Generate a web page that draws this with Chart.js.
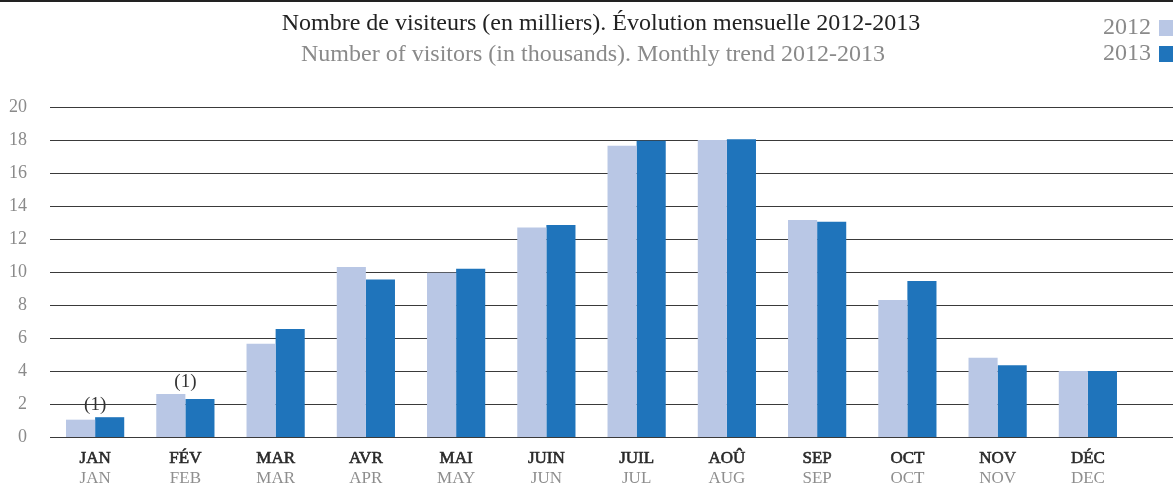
<!DOCTYPE html>
<html>
<head>
<meta charset="utf-8">
<script src="https://cdn.jsdelivr.net/npm/chart.js@4"></script>
<style>
  html, body { margin: 0; padding: 0; background: #fff; }
  #wrap { width: 1173px; height: 486px; position: relative; }
</style>
</head>
<body>
<div id="wrap"><canvas id="chart"></canvas></div>
<script>
const monthsFr = ['JAN', 'FÉV', 'MAR', 'AVR', 'MAI', 'JUIN', 'JUIL', 'AOÛ', 'SEP', 'OCT', 'NOV', 'DÉC'];
const monthsEn = ['JAN', 'FEB', 'MAR', 'APR', 'MAY', 'JUN', 'JUL', 'AUG', 'SEP', 'OCT', 'NOV', 'DEC'];
const visitors2012 = [1.05, 2.6, 5.65, 10.3, 9.95, 12.7, 17.65, 18.0, 13.15, 8.3, 4.8, 4.0];
const visitors2013 = [1.2, 2.3, 6.55, 9.55, 10.2, 12.85, 17.95, 18.05, 13.05, 9.45, 4.35, 4.0];
const notes = ['(1)', '(1)', '', '', '', '', '', '', '', '', '', ''];
const yTicks = [0, 2, 4, 6, 8, 10, 12, 14, 16, 18, 20];

const titleFr = 'Nombre de visiteurs (en milliers). Évolution mensuelle 2012-2013';
const titleEn = 'Number of visitors (in thousands). Monthly trend 2012-2013';

const FONT = '"Liberation Serif", "DejaVu Serif", serif';

// draws titles, legend, extended grid lines, two-line month labels and notes
const decor = {
  id: 'decor',
  beforeDatasetsDraw(chart) {
    const ctx = chart.ctx;
    const y = chart.scales.y;
    ctx.save();
    ctx.strokeStyle = '#3a3a3a';
    ctx.lineWidth = 1.2;
    yTicks.forEach(t => {
      const py = Math.round(y.getPixelForValue(t)) + 0.5;
      ctx.beginPath();
      ctx.moveTo(chart.chartArea.left, py);
      ctx.lineTo(chart.width, py);
      ctx.stroke();
    });
    ctx.restore();
  },
  afterDraw(chart) {
    const ctx = chart.ctx;
    const x = chart.scales.x;
    const y = chart.scales.y;
    ctx.save();

    // top rule
    ctx.fillStyle = '#222';
    ctx.fillRect(0, 0, chart.width, 2);

    // titles
    ctx.textAlign = 'center';
    ctx.textBaseline = 'middle';
    ctx.font = '24px ' + FONT;
    ctx.fillStyle = '#222';
    ctx.fillText(titleFr, 601, 24);
    ctx.fillStyle = '#8a8a8a';
    ctx.fillText(titleEn, 593, 55);

    // legend
    ctx.textAlign = 'right';
    ctx.font = '24px ' + FONT;
    chart.data.datasets.forEach((ds, i) => {
      const ly = 28 + i * 26;
      ctx.fillStyle = '#8a8a8a';
      ctx.fillText(ds.label, 1151, ly);
      ctx.fillStyle = ds.backgroundColor;
      ctx.fillRect(1159, ly - 8, 16, 16);
    });

    // month labels
    ctx.textAlign = 'center';
    monthsFr.forEach((m, i) => {
      const px = x.getPixelForValue(i);
      ctx.font = '17px ' + FONT;
      ctx.fillStyle = '#2a2a2a';
      ctx.strokeStyle = '#2a2a2a';
      ctx.lineWidth = 0.6;
      ctx.fillText(m, px, 459);
      ctx.strokeText(m, px, 459);
      ctx.fillStyle = '#8e8e8e';
      ctx.fillText(monthsEn[i], px, 479);
    });

    // notes above bars
    ctx.font = '19px ' + FONT;
    ctx.fillStyle = '#333';
    notes.forEach((n, i) => {
      if (!n) return;
      const top = Math.max(visitors2012[i], visitors2013[i]);
      ctx.fillText(n, x.getPixelForValue(i), y.getPixelForValue(top) - 12);
    });

    ctx.restore();
  }
};

new Chart(document.getElementById('chart'), {
  type: 'bar',
  data: {
    labels: monthsFr,
    datasets: [
      { label: '2012', data: visitors2012, backgroundColor: '#b9c7e5', borderWidth: 0 },
      { label: '2013', data: visitors2013, backgroundColor: '#1f74bb', borderWidth: 0 }
    ]
  },
  options: {
    responsive: true,
    maintainAspectRatio: false,
    animation: false,
    layout: { padding: { top: 107, right: 40, bottom: 41, left: 0 } },
    plugins: { legend: { display: false }, tooltip: { enabled: false } },
    datasets: { bar: { categoryPercentage: 0.645, barPercentage: 1.0 } },
    scales: {
      x: {
        grid: { display: false },
        border: { display: false },
        ticks: { display: false }
      },
      y: {
        min: 0,
        max: 20,
        afterFit(scale) { scale.width = 50; },
        afterBuildTicks(scale) { scale.ticks = yTicks.map(v => ({ value: v })); },
        grid: { display: false },
        border: { display: false },
        ticks: {
          padding: 15,
          color: '#8a8a8a',
          font: { family: FONT, size: 18 }
        }
      }
    }
  },
  plugins: [decor]
});
</script>
</body>
</html>
